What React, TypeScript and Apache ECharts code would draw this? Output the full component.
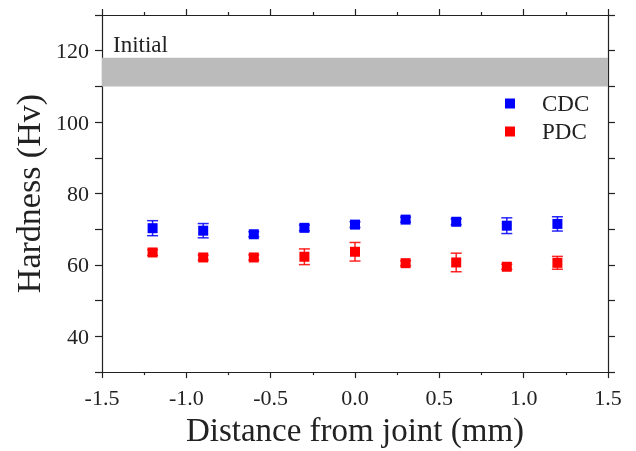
import React, { useEffect, useRef } from "react";
import * as echarts from "echarts";

const xs = [-1.2, -0.9, -0.6, -0.3, 0, 0.3, 0.6, 0.9, 1.2];
const cdcMean = [70.3, 69.6, 68.6, 70.4, 71.3, 72.7, 72.1, 71.0, 71.5];
const cdcErr = [2.1, 2.0, 0.7, 0.8, 0.8, 0.7, 0.8, 2.2, 2.0];
const pdcMean = [63.5, 62.1, 62.1, 62.3, 63.7, 60.5, 60.7, 59.5, 60.6];
const pdcErr = [0.8, 0.7, 0.7, 2.2, 2.6, 0.7, 2.6, 0.7, 1.8];
const initialBand = [110, 118];
const xTickLabels = ["-1.5", "-1.0", "-0.5", "0.0", "0.5", "1.0", "1.5"];
const yTickLabels = [40, 60, 80, 100, 120];

const FONT = "'Liberation Serif', 'Times New Roman', serif";
const BLUE = "#0000ff";
const RED = "#ff0000";
const INK = "#222222";

function errorSeries(name: string, means: number[], errs: number[], color: string) {
  return {
    name,
    type: "custom",
    data: xs.map((x, i) => [x, means[i] - errs[i], means[i] + errs[i]]),
    z: 3,
    renderItem: (params: any, api: any) => {
      const lo = api.coord([api.value(0), api.value(1)]);
      const hi = api.coord([api.value(0), api.value(2)]);
      const w = 5.5;
      const style = { stroke: color, lineWidth: 1.5, opacity: 0.85 };
      return {
        type: "group",
        children: [
          { type: "line", shape: { x1: lo[0], y1: lo[1], x2: hi[0], y2: hi[1] }, style },
          { type: "line", shape: { x1: lo[0] - w, y1: lo[1], x2: lo[0] + w, y2: lo[1] }, style },
          { type: "line", shape: { x1: hi[0] - w, y1: hi[1], x2: hi[0] + w, y2: hi[1] }, style },
        ],
      };
    },
  };
}

export default function App() {
  const ref = useRef<HTMLDivElement>(null);
  useEffect(() => {
    if (!ref.current) return;
    const chart = echarts.init(ref.current, undefined, { renderer: "svg" });
    const axisLine = { show: true, onZero: false, lineStyle: { color: INK, width: 1.2 } };
    const tickStyle = { color: INK, width: 1.2 };
    const tickLabel = { fontFamily: FONT, fontSize: 22, color: INK };
    chart.setOption({
      animation: false,
      grid: { left: 102, right: 28, top: 15, bottom: 73 },
      legend: {
        data: ["CDC", "PDC"],
        orient: "vertical",
        left: 500,
        top: 87,
        icon: "rect",
        itemWidth: 10,
        itemHeight: 10,
        itemGap: 5,
        itemStyle: { opacity: 1 },
        textStyle: { fontFamily: FONT, fontSize: 23, color: INK, padding: [0, 0, 0, 22] },
      },
      xAxis: [
        {
          type: "value",
          position: "bottom",
          min: -1.5,
          max: 1.5,
          interval: 0.5,
          name: "Distance from joint (mm)",
          nameLocation: "middle",
          nameGap: 38,
          nameTextStyle: { fontFamily: FONT, fontSize: 33, color: INK },
          axisLine,
          axisTick: { show: true, inside: false, length: 6, lineStyle: tickStyle },
          minorTick: { show: true, splitNumber: 2, length: 3, lineStyle: tickStyle },
          axisLabel: {
            ...tickLabel,
            margin: 14,
            formatter: (v: number) => xTickLabels[Math.round((v + 1.5) / 0.5)] ?? "",
          },
          splitLine: { show: false },
        },
        {
          type: "value",
          position: "top",
          min: -1.5,
          max: 1.5,
          interval: 0.5,
          axisLine,
          axisTick: { show: true, inside: false, length: 6, lineStyle: tickStyle },
          minorTick: { show: true, splitNumber: 2, length: 3, lineStyle: tickStyle },
          axisLabel: { show: false },
          splitLine: { show: false },
        },
      ],
      yAxis: [
        {
          type: "value",
          position: "left",
          min: 30,
          max: 130,
          interval: 10,
          name: "Hardness (Hv)",
          nameLocation: "middle",
          nameGap: 54,
          nameRotate: 90,
          nameTextStyle: { fontFamily: FONT, fontSize: 34, color: INK },
          axisLine,
          axisTick: { show: true, inside: false, length: 7, lineStyle: tickStyle },
          axisLabel: {
            ...tickLabel,
            margin: 13,
            formatter: (v: number) => (yTickLabels.includes(v) ? String(v) : ""),
          },
          splitLine: { show: false },
        },
        {
          type: "value",
          position: "right",
          min: 30,
          max: 130,
          interval: 10,
          axisLine,
          axisTick: { show: true, inside: false, length: 7, lineStyle: tickStyle },
          axisLabel: { show: false },
          splitLine: { show: false },
        },
      ],
      series: [
        {
          name: "band",
          type: "line",
          data: [],
          markArea: {
            silent: true,
            itemStyle: { color: "#bbbbbb", opacity: 1 },
            label: {
              show: true,
              position: [11, -25],
              fontFamily: FONT,
              fontSize: 23,
              color: INK,
            },
            data: [[{ name: "Initial", yAxis: initialBand[0], xAxis: -1.5 }, { yAxis: initialBand[1], xAxis: 1.5 }]],
          },
        },
        errorSeries("CDC err", cdcMean, cdcErr, BLUE),
        errorSeries("PDC err", pdcMean, pdcErr, RED),
        {
          name: "CDC",
          type: "scatter",
          symbol: "rect",
          symbolSize: 10,
          itemStyle: { color: BLUE, opacity: 1 },
          data: xs.map((x, i) => [x, cdcMean[i]]),
          z: 4,
        },
        {
          name: "PDC",
          type: "scatter",
          symbol: "rect",
          symbolSize: 10,
          itemStyle: { color: RED, opacity: 1 },
          data: xs.map((x, i) => [x, pdcMean[i]]),
          z: 4,
        },
      ],
    });
    return () => chart.dispose();
  }, []);
  return <div ref={ref} style={{ position: "fixed", left: 0, top: 0, width: 636, height: 451 }} />;
}
